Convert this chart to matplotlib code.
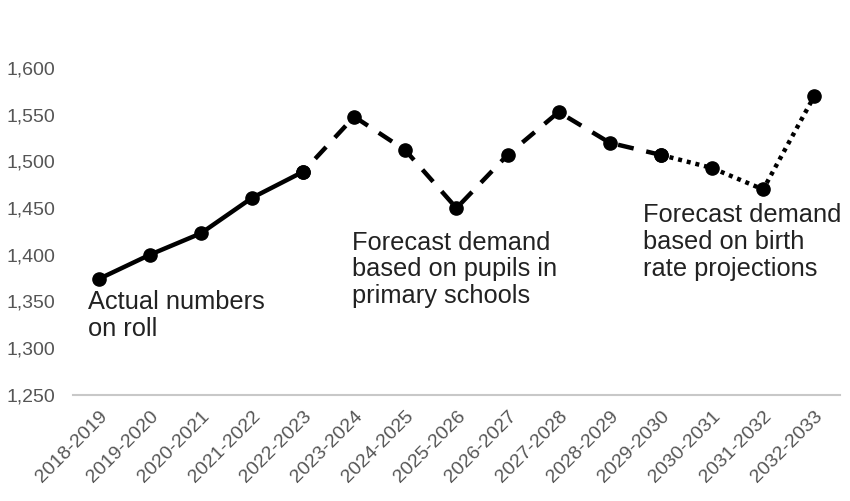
import numpy as np
import matplotlib.pyplot as plt

plt.rcParams['font.family'] = ['Liberation Sans', 'DejaVu Sans']

YEARS = ['2018-2019', '2019-2020', '2020-2021', '2021-2022', '2022-2023',
         '2023-2024', '2024-2025', '2025-2026', '2026-2027', '2027-2028',
         '2028-2029', '2029-2030', '2030-2031', '2031-2032', '2032-2033']
ACTUAL = [1374, 1400, 1423, 1461, 1489]                       # 2018-19 .. 2022-23
PUPILS = [1489, 1548, 1512, 1450, 1507, 1553, 1520, 1507]     # 2022-23 .. 2029-30
BIRTHS = [1507, 1493, 1470, 1570]                             # 2029-30 .. 2032-33
YTICKS = [1250, 1300, 1350, 1400, 1450, 1500, 1550, 1600]

fig = plt.figure(figsize=(8.5, 5.01), dpi=100)
ax = fig.add_axes([0.086, 0.212, 0.902, 0.652])

x = np.arange(len(YEARS))
lw, ms = 3.2, 9.5
ax.plot(x[:5], ACTUAL, color='black', lw=lw, marker='o', ms=ms)
ax.plot(x[4:12], PUPILS, color='black', lw=lw, marker='o', ms=ms,
        linestyle=(2.5, (3.6, 2.9)))
ax.plot(x[11:], BIRTHS, color='black', lw=lw, marker='o', ms=ms,
        dashes=(0.9, 1.1))

ax.set_xlim(-0.5, len(YEARS) - 0.5)
ax.set_ylim(1250, 1600)
ax.set_yticks(YTICKS)
ax.set_yticklabels([f'{v:,}' for v in YTICKS])
ax.set_xticks(x)
ax.set_xticklabels(YEARS, rotation=45, ha='right', rotation_mode='anchor')
ax.tick_params(axis='both', length=0, colors='#555555', labelsize=14)
ax.tick_params(axis='x', pad=9, labelsize=14)
ax.tick_params(axis='y', pad=13)

for s in ('left', 'right', 'top'):
    ax.spines[s].set_visible(False)
ax.spines['bottom'].set_color('#c8c8c8')
ax.spines['bottom'].set_linewidth(1.5)

tkw = dict(fontsize=18.3, color='#222222', va='top', ha='left', linespacing=1.15)
ax.text(-0.21, 1362, 'Actual numbers\non roll', **tkw)
ax.text(4.95, 1426, 'Forecast demand\nbased on pupils in\nprimary schools', **tkw)
ax.text(10.65, 1455, 'Forecast demand\nbased on birth\nrate projections', **tkw)

fig.savefig('out.png', dpi=100)
